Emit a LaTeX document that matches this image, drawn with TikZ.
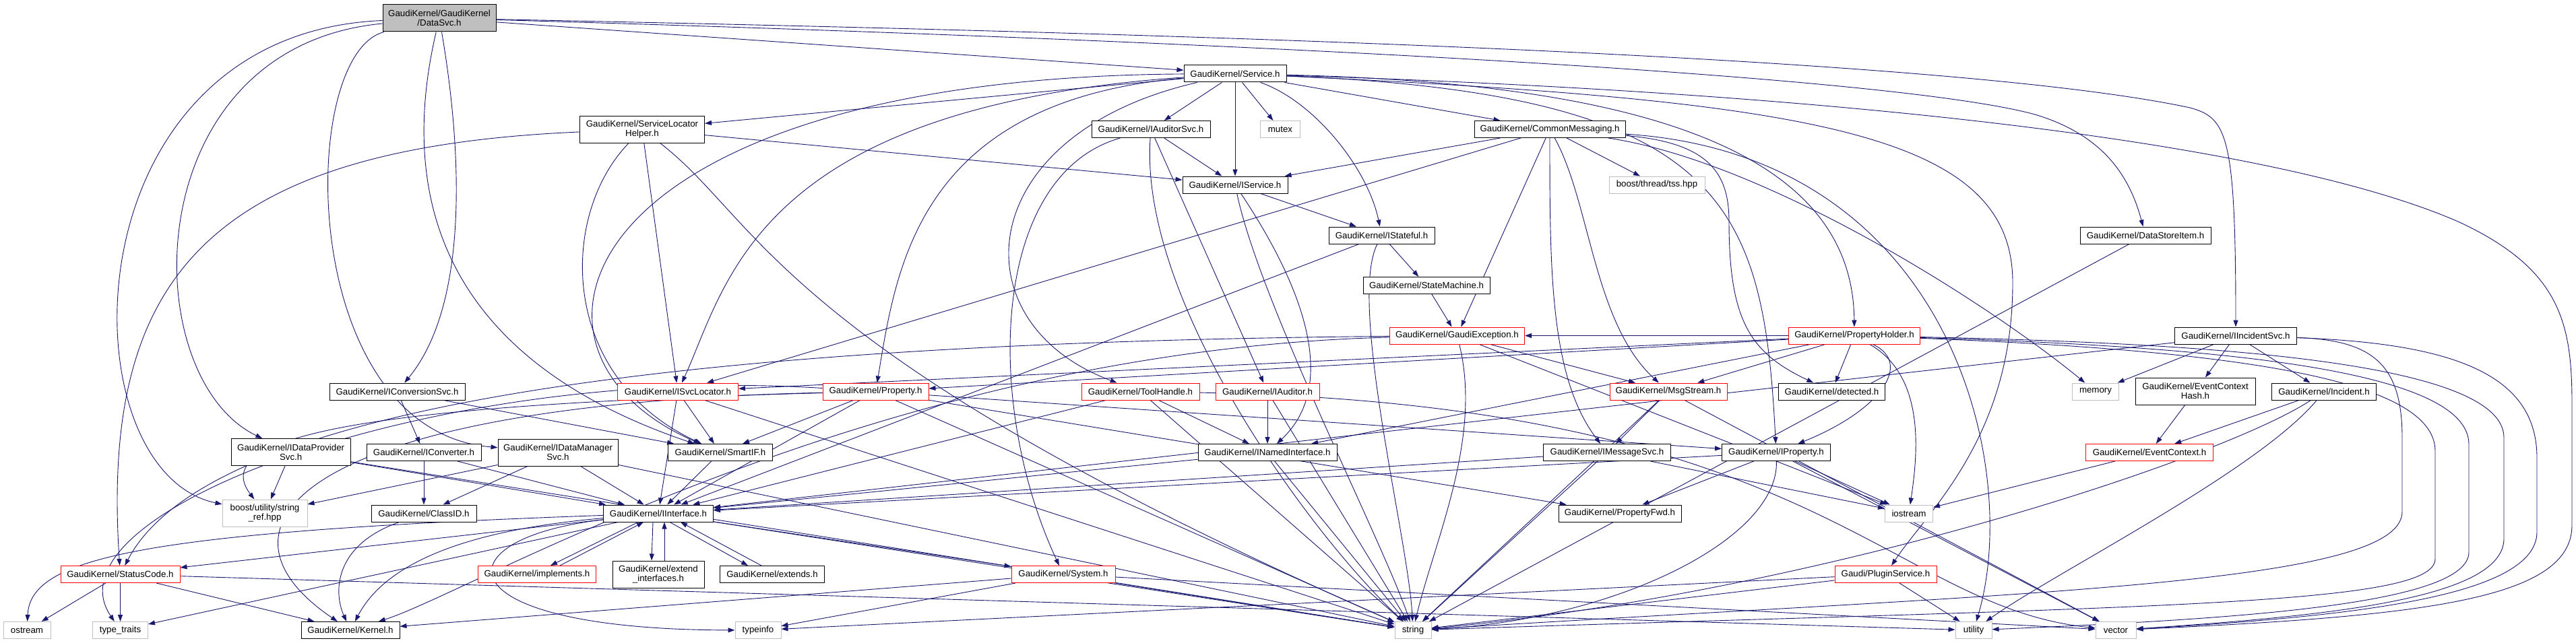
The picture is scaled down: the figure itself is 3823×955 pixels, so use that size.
\documentclass[tikz,border=0pt]{standalone}
\usepackage{fontspec}
\setmainfont{Liberation Sans}
\usetikzlibrary{arrows.meta}
\definecolor{edgec}{HTML}{191970}
\definecolor{graybd}{HTML}{BFBFBF}
\definecolor{rootfill}{HTML}{BFBFBF}
\definecolor{redbd}{HTML}{FF0000}
\newcommand{\gkfont}{\fontsize{13.3}{14}\selectfont}
\pgfdeclarelayer{back}
\pgfdeclarelayer{bg}
\pgfsetlayers{back,bg,main}
\tikzset{
  nb/.style={draw=black, line width=1pt, fill=white, inner sep=0pt, minimum height=25, align=center, font=\gkfont},
  nr/.style={nb, draw=redbd},
  ng/.style={nb, draw=graybd},
  nroot/.style={nb, fill=rootfill},
  e/.style={draw=edgec, line width=0.9pt, -{Triangle[length=10pt,width=7pt]}}
}
\begin{document}
\begin{tikzpicture}[x=1pt,y=-1pt]
\begin{pgfonlayer}{back}
\fill[white] (0,0) rectangle (3823,955);
\end{pgfonlayer}
\useasboundingbox (0,0) rectangle (3823,955);
% row 1
\node[nroot, minimum width=168, minimum height=40] (root) at (652,27) {GaudiKernel/GaudiKernel\\/DataSvc.h};
% row 2
\node[nb, minimum width=152] (svc) at (1833,109.5) {GaudiKernel/Service.h};
% row 3
\node[nb, minimum width=185, minimum height=40] (slh) at (953,192) {GaudiKernel/ServiceLocator\\Helper.h};
\node[nb, minimum width=176] (iaudsvc) at (1708,192) {GaudiKernel/IAuditorSvc.h};
\node[ng, minimum width=59] (mutex) at (1900,192) {mutex};
\node[nb, minimum width=224] (cm) at (2300,192) {GaudiKernel/CommonMessaging.h};
% row 4
\node[nb, minimum width=156] (isvc) at (1833,274.5) {GaudiKernel/IService.h};
\node[ng, minimum width=142] (tss) at (2459,274.5) {boost/thread/tss.hpp};
% row 5
\node[nb, minimum width=157] (istf) at (2050.5,349.5) {GaudiKernel/IStateful.h};
\node[nb, minimum width=194] (dsi) at (3184,349.5) {GaudiKernel/DataStoreItem.h};
% row 6
\node[nb, minimum width=188] (stm) at (2117,424) {GaudiKernel/StateMachine.h};
% row 7
\node[nr, minimum width=200] (gex) at (2162.5,498.5) {GaudiKernel/GaudiException.h};
\node[nr, minimum width=195] (ph) at (2752,498.5) {GaudiKernel/PropertyHolder.h};
\node[nb, minimum width=181] (iinc) at (3318,498.5) {GaudiKernel/IIncidentSvc.h};
% row 8
\node[nb, minimum width=201] (iconv) at (589.5,581.5) {GaudiKernel/IConversionSvc.h};
\node[nr, minimum width=179] (isl) at (1006,581.5) {GaudiKernel/ISvcLocator.h};
\node[nr, minimum width=157] (prop) at (1299.5,581.5) {GaudiKernel/Property.h};
\node[nr, minimum width=175] (th) at (1692.5,581.5) {GaudiKernel/ToolHandle.h};
\node[nr, minimum width=154] (iaud) at (1881,581.5) {GaudiKernel/IAuditor.h};
\node[nr, minimum width=174] (msg) at (2476,581.5) {GaudiKernel/MsgStream.h};
\node[nb, minimum width=158] (det) at (2718.5,581.5) {GaudiKernel/detected.h};
\node[ng, minimum width=69] (mem) at (3110,581.5) {memory};
\node[nb, minimum width=178, minimum height=40] (ech) at (3258,581) {GaudiKernel/EventContext\\Hash.h};
\node[nb, minimum width=155] (inc) at (3449,581.5) {GaudiKernel/Incident.h};
% row 9
\node[nb, minimum width=177, minimum height=40] (idp) at (431.7,671.7) {GaudiKernel/IDataProvider\\Svc.h};
\node[nb, minimum width=170] (icv) at (629,672) {GaudiKernel/IConverter.h};
\node[nb, minimum width=178, minimum height=40] (idm) at (828,672) {GaudiKernel/IDataManager\\Svc.h};
\node[nb, minimum width=155] (sif) at (1069,672) {GaudiKernel/SmartIF.h};
\node[nb, minimum width=206] (inm) at (1881,672) {GaudiKernel/INamedInterface.h};
\node[nb, minimum width=189] (ims) at (2385,672) {GaudiKernel/IMessageSvc.h};
\node[nb, minimum width=161] (ipr) at (2636,672) {GaudiKernel/IProperty.h};
\node[nr, minimum width=189] (ec) at (3190,672) {GaudiKernel/EventContext.h};
% row 10
\node[ng, minimum width=126, minimum height=40] (sref) at (393,762) {boost/utility/string\\\_ref.hpp};
\node[nb, minimum width=156] (cid) at (629,762.5) {GaudiKernel/ClassID.h};
\node[nb, minimum width=163] (iif) at (977,762.5) {GaudiKernel/IInterface.h};
\node[nb, minimum width=182] (pfwd) at (2404,762.5) {GaudiKernel/PropertyFwd.h};
\node[ng, minimum width=71] (ios) at (2833,762.5) {iostream};
% row 11
\node[nr, minimum width=177] (sc) at (178.5,853) {GaudiKernel/StatusCode.h};
\node[nr, minimum width=175] (impl) at (797,853) {GaudiKernel/implements.h};
\node[nb, minimum width=136, minimum height=40] (ext) at (977,853) {GaudiKernel/extend\\\_interfaces.h};
\node[nb, minimum width=155] (exts) at (1146,853) {GaudiKernel/extends.h};
\node[nr, minimum width=154] (sys) at (1578,853) {GaudiKernel/System.h};
\node[nr, minimum width=151] (plg) at (2798.5,853) {Gaudi/PluginService.h};
% row 12
\node[ng, minimum width=70] (ostr) at (40,936) {ostream};
\node[ng, minimum width=82] (tt) at (178.5,936) {type\_traits};
\node[nb, minimum width=146] (ker) at (520,936) {GaudiKernel/Kernel.h};
\node[ng, minimum width=68] (ti) at (1125,936) {typeinfo};
\node[ng, minimum width=54] (str) at (2097,936) {string};
\node[ng, minimum width=54] (util) at (2929,936) {utility};
\node[ng, minimum width=60] (vec) at (3140,936) {vector};

\begin{pgfonlayer}{bg}
% DataSvc.h
\draw[e] (root) -- (svc);
\draw[e] (root) .. controls (1800,50) and (2900,85) .. (3250,160) .. controls (3305,175) and (3318,200) .. (iinc);
\draw[e] (root) .. controls (1800,60) and (2800,110) .. (3020,170) .. controls (3120,200) and (3160,260) .. (dsi);
\draw[e] (root) .. controls (600,250) and (620,520) .. (sif);
\draw[e] (root) .. controls (690,250) and (690,460) .. (iconv);
\draw[e] (root) .. controls (440,80) and (440,640) .. (idm);
\draw[e] (root) .. controls (200,70) and (200,560) .. (idp);
\draw[e] (root) .. controls (95,50) and (95,700) .. (sref);
% Service.h
\draw[e] (svc) -- (slh);
\draw[e] (svc) -- (iaudsvc);
\draw[e] (svc) -- (mutex);
\draw[e] (svc) -- (cm);
\draw[e] (svc) -- (isvc);
\draw[e] (svc) .. controls (1950,150) and (2030,250) .. (istf);
\draw[e] (svc) .. controls (1120,160) and (1080,420) .. (isl);
\draw[e] (svc) .. controls (850,115) and (720,520) .. (sif);
\draw[e] (svc) .. controls (1360,150) and (1330,400) .. (prop);
\draw[e] (svc) .. controls (1440,200) and (1420,480) .. (th);
\draw[e] (svc) .. controls (2500,125) and (2750,250) .. (ph);
\draw[e] (svc) .. controls (2560,140) and (2617,300) .. (ipr);
\draw[e] (svc) .. controls (2700,150) and (2987,200) .. (2987,420) .. controls (2987,650) and (2860,760) .. (plg);
\draw[e] (svc) .. controls (2800,140) and (3400,220) .. (3650,330) .. controls (3800,400) and (3817,480) .. (3817,600) -- (3817,780) .. controls (3817,890) and (3600,915) .. (vec);
% ServiceLocatorHelper.h
\draw[e] (slh) .. controls (300,220) and (150,420) .. (sc);
\draw[e] (slh) .. controls (829,320) and (829,560) .. (sif);
\draw[e] (slh) -- (isl);
\draw[e] (slh) .. controls (1132,330) and (1150,520) .. (str);
\draw[e] (slh) -- (isvc);
% IAuditorSvc.h
\draw[e] (iaudsvc) -- (isvc);
\draw[e] (iaudsvc) -- (iaud);
\draw[e] (iaudsvc) .. controls (1470,260) and (1460,600) .. (sys);
\draw[e] (iaudsvc) .. controls (1690,450) and (1950,800) .. (str);
% CommonMessaging.h
\draw[e] (cm) -- (isvc);
\draw[e] (cm) -- (isl);
\draw[e] (cm) -- (gex);
\draw[e] (cm) .. controls (2300,400) and (2300,560) .. (ims);
\draw[e] (cm) .. controls (2360,300) and (2365,480) .. (msg);
\draw[e] (cm) -- (tss);
\draw[e] (cm) .. controls (2540,212) and (2566,260) .. (2566,330) .. controls (2566,480) and (2600,525) .. (det);
\draw[e] (cm) .. controls (2620,240) and (2950,450) .. (mem);
\draw[e] (cm) .. controls (2900,230) and (3000,700) .. (util);
% IService.h
\draw[e] (isvc) -- (istf);
\draw[e] (isvc) .. controls (1930,420) and (1990,570) .. (inm);
\draw[e] (isvc) .. controls (1870,450) and (2050,800) .. (str);
% IStateful.h
\draw[e] (istf) -- (stm);
\draw[e] (istf) -- (iif);
\draw[e] (istf) .. controls (2000,450) and (2090,800) .. (str);
\draw[e] (stm) -- (gex);
\draw[e] (dsi) -- (str);
% IIncidentSvc.h
\draw[e] (iinc) -- (mem);
\draw[e] (iinc) -- (ech);
\draw[e] (iinc) -- (inc);
\draw[e] (iinc) -- (iif);
\draw[e] (iinc) .. controls (3520,505) and (3565,540) .. (3565,650) -- (3565,760) .. controls (3565,870) and (3000,880) .. (str);
\draw[e] (iinc) .. controls (3650,510) and (3765,560) .. (3765,680) -- (3765,790) .. controls (3765,885) and (3500,915) .. (vec);
% GaudiException.h
\draw[e] (gex) .. controls (900,510) and (300,620) .. (sc);
\draw[e] (gex) -- (msg);
\draw[e] (gex) .. controls (2200,650) and (2130,800) .. (str);
\draw[e] (gex) -- (ios);
\draw[e] (gex) .. controls (1300,520) and (700,880) .. (ker);
% PropertyHolder.h
\draw[e] (ph) -- (det);
\draw[e] (ph) -- (msg);
\draw[e] (ph) .. controls (2840,540) and (2790,610) .. (ipr);
\draw[e] (ph) .. controls (2860,560) and (2845,680) .. (ios);
\draw[e] (ph) -- (prop);
\draw[e] (ph) -- (inm);
\draw[e] (ph) -- (isl);
\draw[e] (ph) -- (gex);
\draw[e] (ph) .. controls (3300,510) and (3716,540) .. (3716,650) -- (3716,800) .. controls (3716,890) and (3450,915) .. (vec);
\draw[e] (ph) .. controls (3300,515) and (3664,550) .. (3664,660) -- (3664,820) .. controls (3664,900) and (3300,920) .. (util);
\draw[e] (ph) .. controls (3300,520) and (3614,560) .. (3614,670) -- (3614,830) .. controls (3614,900) and (3200,900) .. (str);
% IConversionSvc.h
\draw[e] (iconv) -- (icv);
\draw[e] (iconv) -- (sif);
% ISvcLocator.h
\draw[e] (isl) -- (sif);
\draw[e] (isl) -- (iif);
\draw[e] (isl) -- (str);
% Property.h
\draw[e] (prop) -- (ipr);
\draw[e] (prop) -- (pfwd);
\draw[e] (prop) -- (str);
\draw[e] (prop) -- (iif);
\draw[e] (prop) -- (sif);
\draw[e] (prop) .. controls (600,600) and (300,640) .. (sref);
\draw[e] (prop) .. controls (450,600) and (290,780) .. (ker);
\draw[e] (prop) .. controls (650,540) and (60,760) .. (tt);
% ToolHandle.h
\draw[e] (th) -- (inm);
\draw[e] (th) -- (str);
\draw[e] (th) -- (iif);
\draw[e] (th) .. controls (2700,600) and (2800,900) .. (vec);
% IAuditor.h
\draw[e] (iaud) -- (inm);
\draw[e] (iaud) -- (str);
% MsgStream.h
\draw[e] (msg) -- (ims);
\draw[e] (msg) -- (str);
\draw[e] (msg) -- (vec);
% EventContext
\draw[e] (ech) -- (ec);
\draw[e] (inc) -- (ec);
\draw[e] (inc) .. controls (3300,680) and (2700,880) .. (str);
\draw[e] (inc) .. controls (3350,700) and (3050,850) .. (util);
\draw[e] (ec) -- (ios);
% IDataProviderSvc.h
\draw[e] (idp) -- (sref);
\draw[e] (idp) -- (iif);
\draw[e] (idp) -- (str);
% IConverter.h
\draw[e] (icv) -- (cid);
\draw[e] (icv) -- (iif);
% IDataManagerSvc.h
\draw[e] (idm) -- (sref);
\draw[e] (idm) -- (cid);
\draw[e] (idm) -- (iif);
\draw[e] (idm) -- (str);
% SmartIF.h
\draw[e] (sif) -- (iif);
% INamedInterface.h
\draw[e] (inm) -- (iif);
\draw[e] (inm) -- (str);
% IMessageSvc.h
\draw[e] (ims) -- (iif);
\draw[e] (ims) -- (ios);
\draw[e] (ims) -- (str);
% IProperty.h
\draw[e] (ipr) -- (pfwd);
\draw[e] (ipr) -- (ios);
\draw[e] (ipr) -- (vec);
\draw[e] (ipr) -- (iif);
\draw[e] (ipr) .. controls (2640,800) and (2400,920) .. (str);
% ClassID.h
\draw[e] (cid) .. controls (495,810) and (495,880) .. (ker);
% IInterface.h
\draw[e] (iif) .. controls (660,790) and (565,850) .. (ker);
\draw[e] (iif) -- (sc);
\draw[e] (iif) -- (sys);
\draw[e] (iif) -- (tt);
\draw[e] (iif) -- (str);
\draw[e] (iif) .. controls (650,800) and (650,935) .. (ti);
\draw[e] (iif) .. controls (200,790) and (45,830) .. (ostr);
\draw[e] ([xshift=-30pt]iif.south) -- ([xshift=20pt]impl.north);
\draw[e] ([xshift=34pt]impl.north) -- ([xshift=-22pt]iif.south);
\draw[e] ([xshift=-8pt]iif.south) -- ([xshift=-10pt]ext.north);
\draw[e] ([xshift=9pt]ext.north) -- ([xshift=9pt]iif.south);
\draw[e] ([xshift=17pt]iif.south) -- ([xshift=-36pt]exts.north);
\draw[e] ([xshift=-16pt]exts.north) -- ([xshift=33pt]iif.south);
% StatusCode.h
\draw[e] (sc) -- (ostr);
\draw[e] (sc) -- (tt);
\draw[e] (sc) -- (ker);
\draw[e] (sc) -- (util);
% System.h
\draw[e] (sys) -- (ker);
\draw[e] (sys) -- (ti);
\draw[e] (sys) -- (str);
\draw[e] (sys) -- (vec);
% PluginService.h
\draw[e] (plg) -- (str);
\draw[e] (plg) -- (ti);
\draw[e] (plg) -- (util);
\end{pgfonlayer}
\end{tikzpicture}
\end{document}
